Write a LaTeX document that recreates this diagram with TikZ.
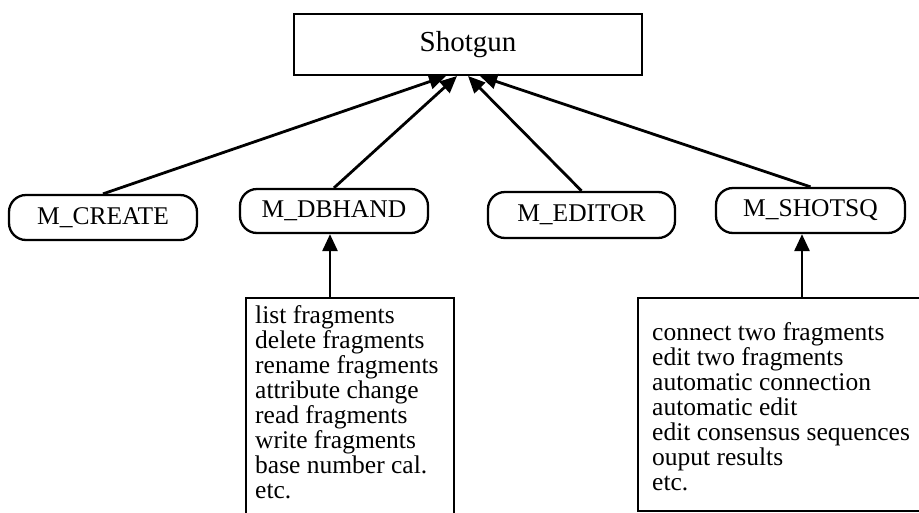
\documentclass[tikz,border=0pt]{standalone}
\usepackage{fontspec}
\setmainfont{Liberation Serif}
\usetikzlibrary{arrows.meta}
\tikzset{
  boxline/.style={draw=black, line width=2.3pt},
  pill/.style={boxline, rounded corners=17pt, inner sep=0pt, font=\fontsize{25.5}{25}\selectfont},
  toparr/.style={line width=2.8pt, -{Triangle[length=17pt,width=15pt]}},
  listtext/.style={anchor=north west, inner sep=0pt, align=left, font=\fontsize{25.5}{25}\selectfont}
}
\begin{document}
\begin{tikzpicture}[x=1pt,y=-1pt]
\fill[white] (0,0) rectangle (919,512);
\clip (0,0) rectangle (919,512);
% top box
\node[boxline, minimum width=348pt, minimum height=61pt, inner sep=0pt,
      font=\fontsize{29}{30}\selectfont] (shotgun) at (468,44.5) {Shotgun};
% module pills
\node[pill, minimum width=188pt, minimum height=45pt] (mcreate) at (103,217.5) {M\_CREATE};
\node[pill, minimum width=188pt, minimum height=44pt] (mdbhand) at (334,211) {M\_DBHAND};
\node[pill, minimum width=187pt, minimum height=46pt] (meditor) at (581.5,215) {M\_EDITOR};
\node[pill, minimum width=189pt, minimum height=45pt] (mshotsq) at (810.5,210.5) {M\_SHOTSQ};
% arrow tips on the top box
\coordinate (tipa) at (446,76);
\coordinate (tipb) at (457,76);
\coordinate (tipc) at (468,76);
\coordinate (tipd) at (480,76);
\draw[toparr] (mcreate.north) -- (tipa);
\draw[toparr] (mdbhand.north) -- (tipb);
\draw[toparr] (meditor.north) -- (tipc);
\draw[toparr] (mshotsq.north) -- (tipd);
% lower boxes
\node[boxline, anchor=north west, minimum width=208pt, minimum height=240pt, inner sep=0pt] (dbbox) at (245,297) {};
\node[boxline, anchor=north west, minimum width=300pt, minimum height=213pt, inner sep=0pt] (shbox) at (637,297) {};
\node[listtext] (dbtext) at (255,305) {list fragments\\delete fragments\\rename fragments\\attribute change\\read fragments\\write fragments\\base number cal.\\etc.};
\node[listtext] (shtext) at (652,322) {connect two fragments\\edit two fragments\\automatic connection\\automatic edit\\edit consensus sequences\\ouput results\\etc.};
% arrows from lower boxes to modules
\coordinate (dbfoot) at (330,297);
\coordinate (shfoot) at (802,297);
\draw[toparr] (dbfoot) -- (dbfoot |- mdbhand.south);
\draw[toparr] (shfoot) -- (shfoot |- mshotsq.south);
\end{tikzpicture}
\end{document}
